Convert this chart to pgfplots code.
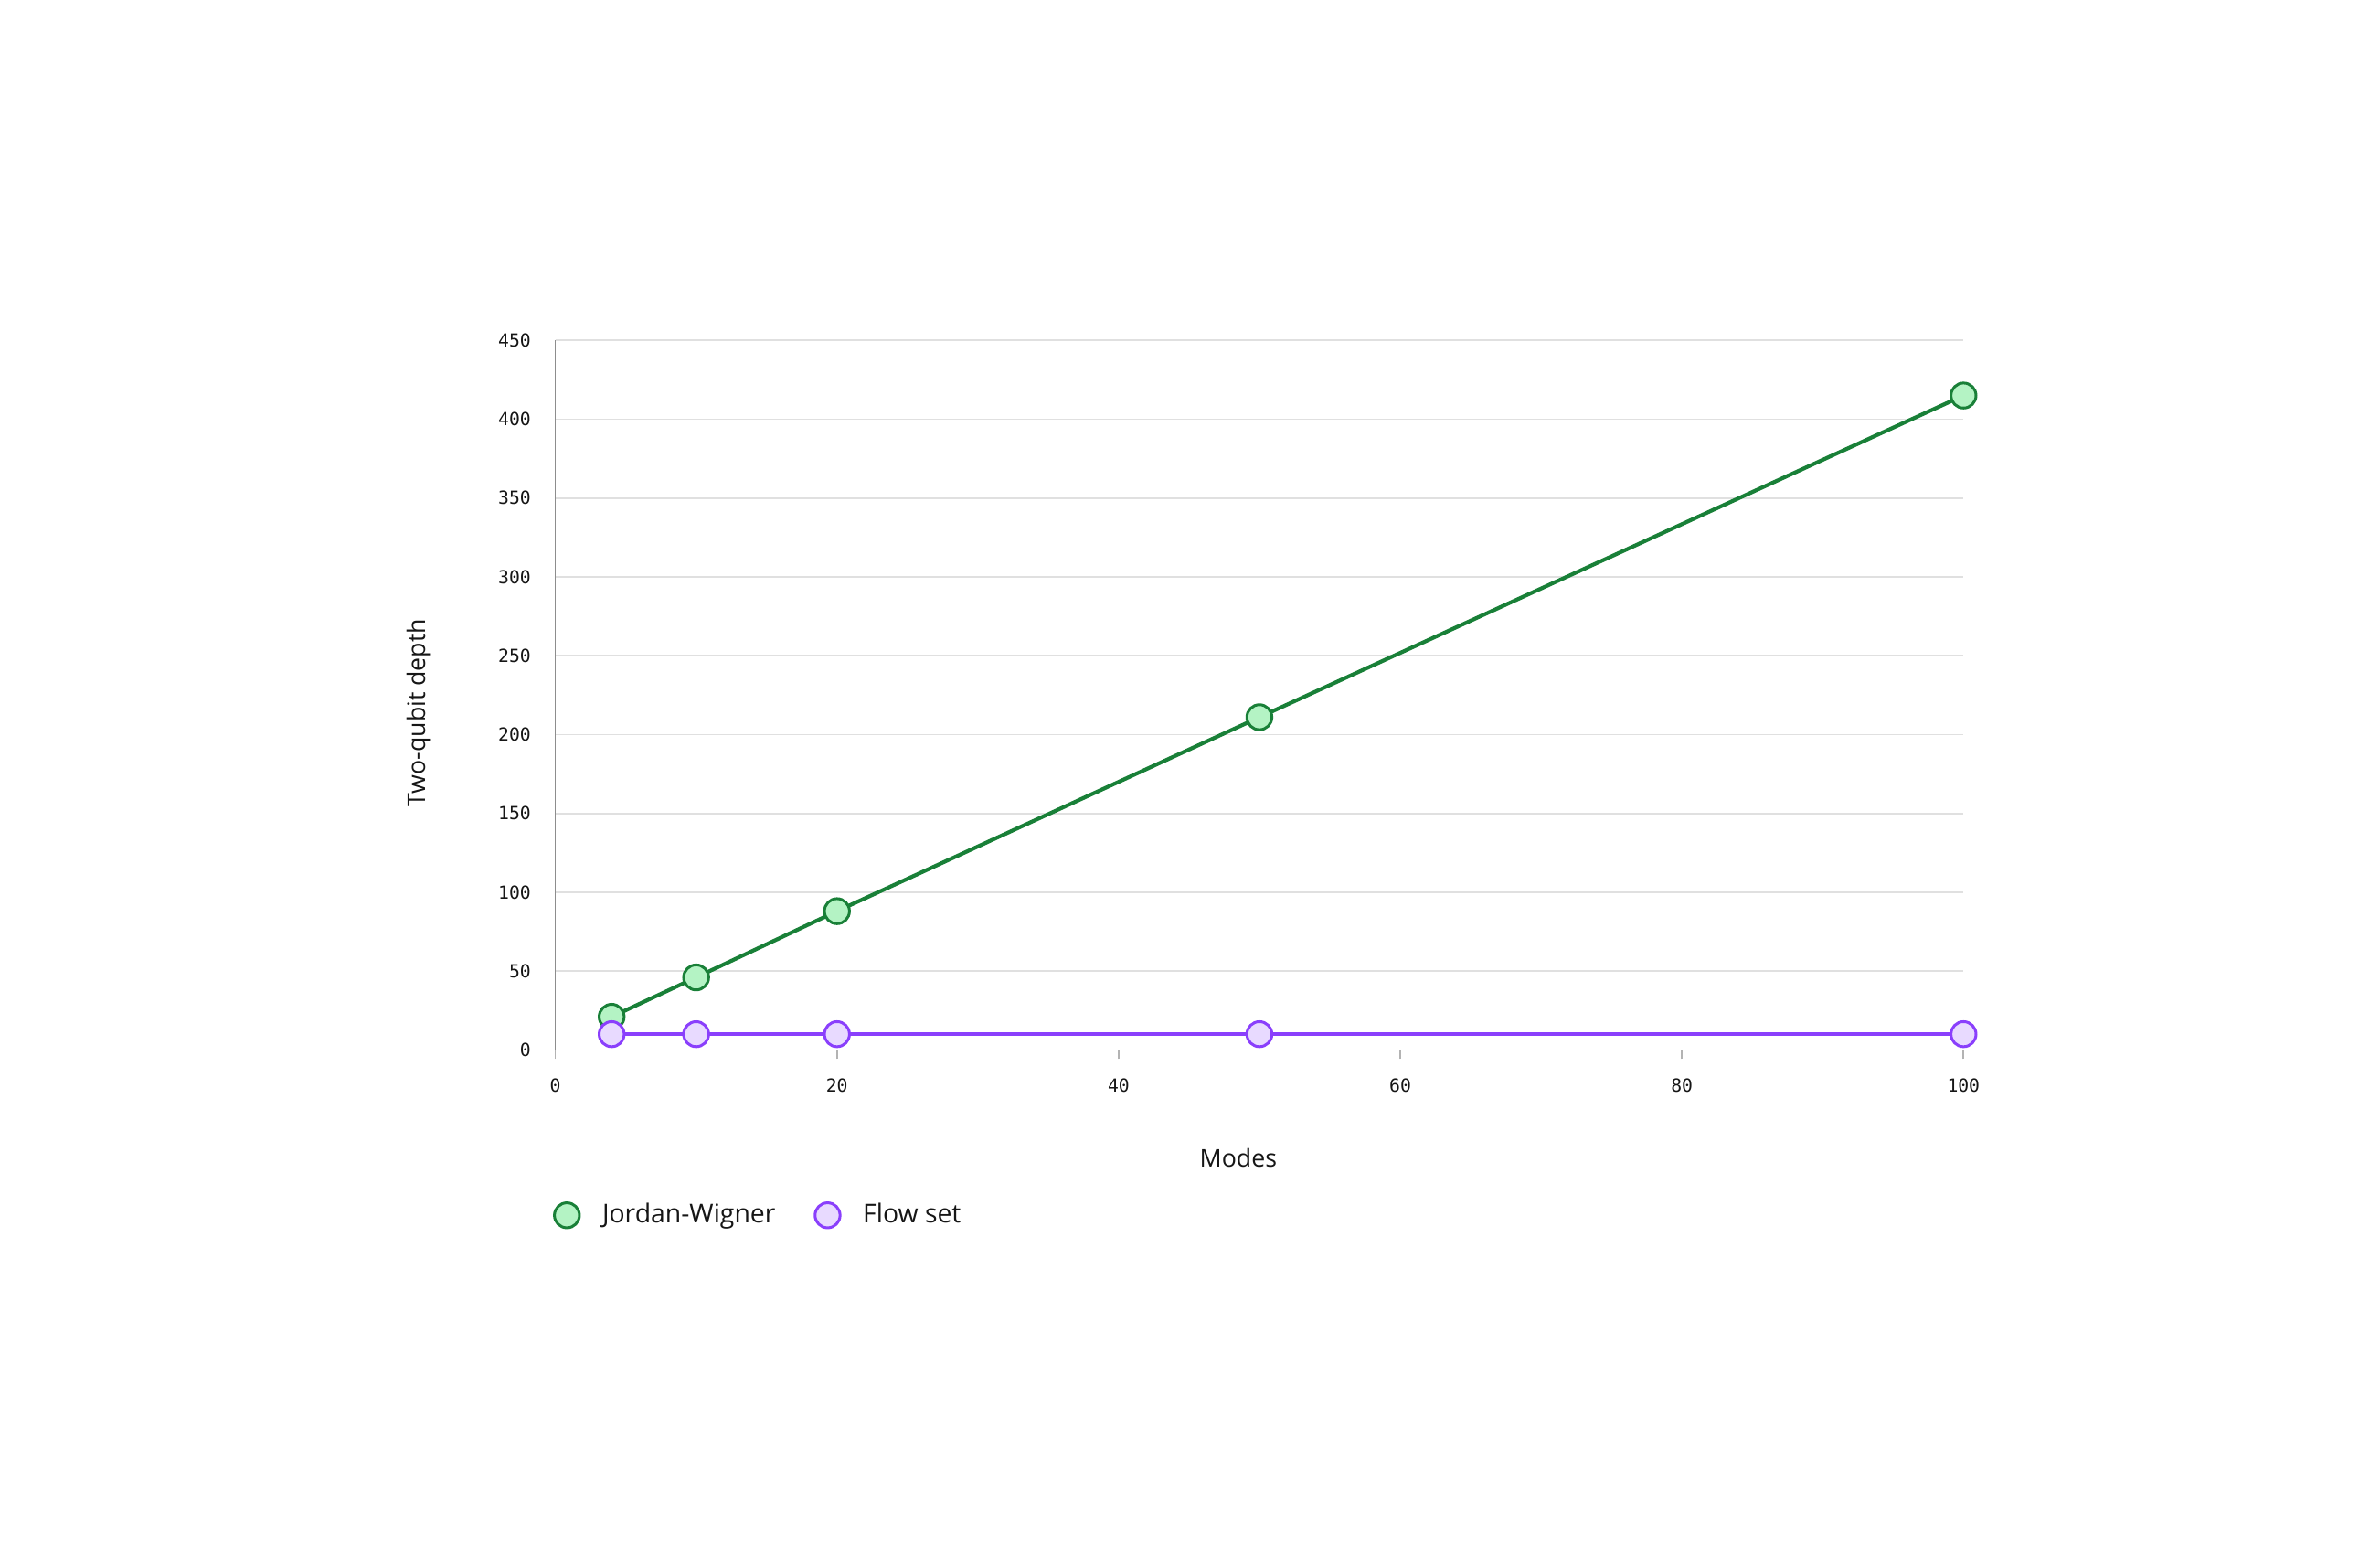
\documentclass[border=0pt]{standalone}
\usepackage{fontspec}
\setmainfont{Open Sans}
\newfontfamily\tickfont{DejaVu Sans Mono}
\usepackage{pgfplots}
\pgfplotsset{compat=1.18}

\definecolor{jwline}{HTML}{198038}
\definecolor{jwfill}{HTML}{B4F3C4}
\definecolor{fsline}{HTML}{8A3FFC}
\definecolor{fsfill}{HTML}{E8DAFF}
\definecolor{gridc}{HTML}{E0E0E0}
\definecolor{axisc}{HTML}{8D8D8D}
\definecolor{txt}{HTML}{161616}

\begin{document}
\begin{tikzpicture}
\path[use as bounding box, fill=white] (-182pt,-166pt) rectangle (598pt,344pt);
\begin{axis}[
  scale only axis,
  width=461.5pt, height=232.5pt,
  xmin=0, xmax=100, ymin=0, ymax=450,
  xtick={0,20,40,60,80,100},
  ytick={0,50,...,450},
  axis lines=left,
  axis line style={draw=axisc, line width=0.5pt, -},
  ymajorgrids,
  grid style={draw=gridc, line width=0.5pt},
  tick align=outside,
  xtick style={draw=gridc!80!black, line width=0.5pt},
  major tick length=3pt,
  ytick style={draw=none},
  ticklabel style={font=\tickfont\fontsize{5.9}{7}\selectfont, text=txt},
  /pgf/number format/assume math mode=true,
  xticklabel style={yshift=-3pt},
  yticklabel style={xshift=-1.5pt},
  xlabel={Modes},
  ylabel={Two-qubit depth},
  label style={font=\fontsize{8}{10}\selectfont, text=txt},
  xlabel style={at={(axis description cs:0.485,-0.152)}, anchor=center},
  ylabel style={at={(axis description cs:-0.097,0.475)}, anchor=center},
  legend columns=2,
  legend image code/.code={\draw[#1] plot coordinates {(0pt,0pt)};},
  legend style={at={(axis description cs:0,-0.233)}, anchor=west, xshift=-3.5pt,
    draw=none, fill=none, font=\fontsize{8.5}{10}\selectfont, text=txt,
    /tikz/every odd column/.append style={column sep=5.5pt},
    /tikz/every even column/.append style={column sep=11pt}},
  legend cell align=left,
  clip=false,
]
\addplot[color=jwline, line width=1.25pt, mark=*, mark size=4.1pt,
  mark options={fill=jwfill, draw=jwline, line width=0.9pt}]
  coordinates {(4,21) (10,46) (20,88) (50,211) (100,415)};
\addlegendentry{Jordan-Wigner}
\addplot[color=fsline, line width=1.25pt, mark=*, mark size=4.1pt,
  mark options={fill=fsfill, draw=fsline, line width=0.9pt}]
  coordinates {(4,10) (10,10) (20,10) (50,10) (100,10)};
\addlegendentry{Flow set}
\end{axis}
\end{tikzpicture}
\end{document}
